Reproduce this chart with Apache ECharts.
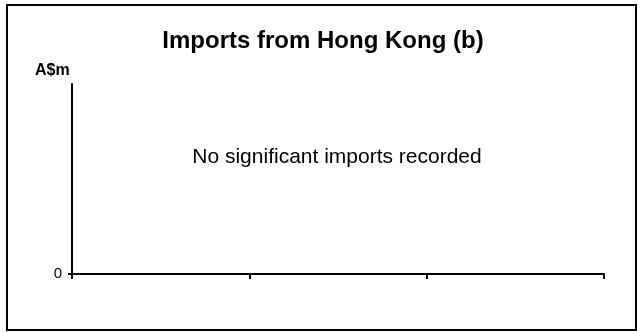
<!DOCTYPE html>
<html>
<head>
<meta charset="utf-8">
<script src="https://cdn.jsdelivr.net/npm/echarts@6.0.0/dist/echarts.min.js"></script>
<style>
  html, body { margin: 0; padding: 0; background: #ffffff; }
  #chart { width: 637px; height: 332px; }
</style>
</head>
<body>
<div id="chart"></div>
<script>
// periods on the x axis (labels not printed in the source)
const categories = ['', '', ''];
// no significant imports recorded -> no values
const importValues = [null, null, null];
// y tick labels shown
const yTickValues = [0];

const chart = echarts.init(document.getElementById('chart'));
const font = "'Liberation Sans', Arial, sans-serif";

chart.setOption({
  animation: false,
  backgroundColor: '#ffffff',
  title: [{
    text: 'Imports from Hong Kong (b)',
    left: 323,
    top: 41,
    textAlign: 'center',
    textVerticalAlign: 'middle',
    padding: 0,
    textStyle: { fontFamily: font, fontSize: 24, fontWeight: 'bold', color: '#000' }
  }],
  graphic: [
    {
      type: 'rect',
      shape: { x: 7, y: 5, width: 629, height: 325 },
      style: { fill: 'none', stroke: '#000', lineWidth: 2 },
      silent: true
    },
    {
      type: 'text',
      x: 35, y: 71,
      style: {
        text: 'A$m', fontFamily: font, fontSize: 16, fontWeight: 'bold', fill: '#000',
        textAlign: 'left', textVerticalAlign: 'middle'
      }
    },
    {
      type: 'text',
      x: 337, y: 157,
      style: {
        text: 'No significant imports recorded', fontFamily: font, fontSize: 21, fill: '#000',
        textAlign: 'center', textVerticalAlign: 'middle'
      }
    }
  ],
  grid: { left: 72, right: 33, top: 84, bottom: 58, containLabel: false },
  xAxis: {
    type: 'category',
    data: categories,
    boundaryGap: true,
    axisLine: { lineStyle: { color: '#000', width: 2 } },
    axisTick: { show: true, length: 5, lineStyle: { color: '#000', width: 2 } },
    axisLabel: { show: false },
    splitLine: { show: false }
  },
  yAxis: {
    type: 'value',
    min: 0,
    max: 1,
    axisLine: { show: true, lineStyle: { color: '#000', width: 2 } },
    axisTick: { show: true, length: 4, customValues: yTickValues, lineStyle: { color: '#000', width: 2 } },
    axisLabel: {
      customValues: yTickValues,
      margin: 10,
      fontFamily: font, fontSize: 15, color: '#000'
    },
    splitLine: { show: false }
  },
  series: [{
    type: 'bar',
    data: importValues,
    itemStyle: { color: '#000' }
  }]
});
</script>
</body>
</html>
